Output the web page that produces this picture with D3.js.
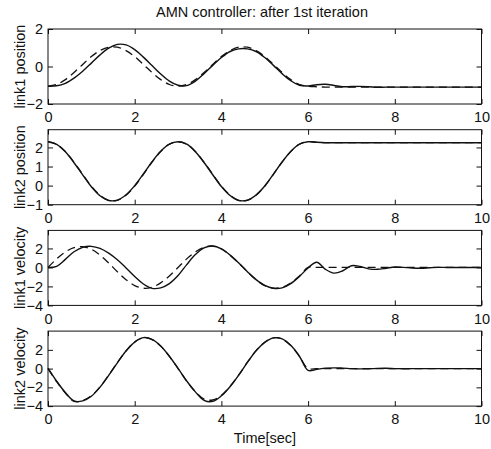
<!DOCTYPE html>
<html>
<head>
<meta charset="utf-8">
<script src="https://cdn.jsdelivr.net/npm/d3@7"></script>
<style>
  html, body { margin: 0; padding: 0; background: #fff; }
  svg { display: block; }
  text { font-family: "Liberation Sans", Arial, Helvetica, sans-serif; fill: #111; }
</style>
</head>
<body>
<svg id="chart" width="491" height="449"></svg>
<script>
// ---- data ----
const time = [0,0.2,0.4,0.6,0.8,1,1.2,1.4,1.6,1.8,2,2.2,2.4,2.6,2.8,3,3.2,3.4,3.6,3.8,4,4.2,4.4,4.6,4.8,5,5.2,5.4,5.6,5.8,6,
  6.2,6.4,6.6,6.8,7,7.2,7.4,7.6,7.8,8,8.2,8.4,8.6,8.8,9,9.2,9.4,9.6,9.8,10];

const link1PosDesired = [-1.05,-0.96,-0.70,-0.32,0.11,0.53,0.85,1.03,1.03,0.85,0.53,0.11,-0.32,-0.70,-0.96,-1.05,
  -0.96,-0.70,-0.32,0.11,0.53,0.85,1.03,1.03,0.85,0.53,0.11,-0.32,-0.70,-0.96,-1.05,
  -1.08,-1.1,-1.1,-1.1,-1.1,-1.1,-1.1,-1.1,-1.1,-1.1,-1.1,-1.1,-1.1,-1.1,-1.1,-1.1,-1.1,-1.1,-1.1,-1.1];
const link1PosActual = [-1.05,-1.03,-0.90,-0.62,-0.25,0.18,0.62,0.98,1.18,1.15,0.90,0.50,0.05,-0.40,-0.78,-1.00,
  -1.02,-0.78,-0.38,0.06,0.48,0.80,0.94,0.94,0.80,0.48,0.06,-0.38,-0.76,-1.00,-1.04,
  -0.97,-0.95,-1.01,-1.08,-1.07,-1.06,-1.08,-1.11,-1.10,-1.1,-1.1,-1.1,-1.1,-1.1,-1.1,-1.1,-1.1,-1.1,-1.1,-1.1];

const link2PosDesired = [2.30,2.17,1.79,1.23,0.59,-0.03,-0.50,-0.77,-0.77,-0.50,-0.03,0.59,1.23,1.79,2.17,2.30,
  2.17,1.79,1.23,0.59,-0.03,-0.50,-0.77,-0.77,-0.50,-0.03,0.59,1.23,1.79,2.17,2.30,
  2.27,2.25,2.25,2.25,2.25,2.25,2.25,2.25,2.25,2.25,2.25,2.25,2.25,2.25,2.25,2.25,2.25,2.25,2.25,2.25];
const link2PosActual = [2.30,2.16,1.77,1.20,0.56,-0.06,-0.53,-0.78,-0.76,-0.48,0.00,0.61,1.25,1.80,2.17,2.30,
  2.17,1.78,1.21,0.57,-0.05,-0.52,-0.78,-0.76,-0.49,-0.02,0.60,1.24,1.79,2.17,2.30,
  2.27,2.25,2.25,2.25,2.25,2.25,2.25,2.25,2.25,2.25,2.25,2.25,2.25,2.25,2.25,2.25,2.25,2.25,2.25,2.25];

const link1VelDesired = [0,0.90,1.63,2.09,2.19,1.91,1.29,0.46,-0.46,-1.29,-1.91,-2.19,-2.09,-1.63,-0.90,0,
  0.90,1.63,2.12,2.25,1.95,1.29,0.46,-0.46,-1.29,-1.91,-2.19,-2.09,-1.63,-0.90,0,
  0,0,0,0,0,0,0,0,0,0,0,0,0,0,0,0,0,0,0,0];
const link1VelActual = [0,0.12,0.85,1.65,2.12,2.22,2.00,1.50,0.80,-0.05,-0.95,-1.75,-2.20,-2.15,-1.70,-0.85,
  0.30,1.35,2.05,2.25,1.95,1.30,0.47,-0.45,-1.28,-1.90,-2.20,-2.15,-1.70,-0.95,-0.05,
  0.55,-0.20,-0.60,-0.35,0.18,0.10,-0.15,-0.20,-0.08,0.05,0.00,-0.06,-0.08,-0.04,0,0,0,0,0,0];

const link2VelDesired = [0,-1.40,-2.60,-3.50,-3.40,-2.90,-1.95,-0.70,0.65,1.90,2.85,3.30,3.10,2.40,1.30,0.00,
  -1.35,-2.45,-3.25,-3.35,-2.85,-1.90,-0.68,0.68,1.91,2.81,3.28,3.15,2.45,1.30,0.00,
  0,0,0,0,0,0,0,0,0,0,0,0,0,0,0,0,0,0,0,0];
const link2VelActual = [0.05,-1.35,-2.55,-3.45,-3.45,-2.95,-1.98,-0.72,0.62,1.88,2.83,3.30,3.12,2.42,1.32,0.02,
  -1.32,-2.48,-3.38,-3.50,-2.90,-1.92,-0.70,0.66,1.90,2.80,3.28,3.18,2.48,1.32,-0.20,
  -0.08,0.05,0.08,0.05,0.00,-0.03,-0.02,0.02,0.03,0.00,-0.02,0,0,0,0,0,0,0,0,0];

const xTicks = [0,2,4,6,8,10];
const yLabels = ["link1 position","link2 position","link1 velocity","link2 velocity"];
const yDomains = [[-2,2],[-1,2.93],[-4,3.9],[-4,4]];
const yTicks = [[-2,0,2],[-1,0,1,2],[-4,-2,0,2],[-4,-2,0,2]];
const actualSeries = [link1PosActual, link2PosActual, link1VelActual, link2VelActual];
const desiredSeries = [link1PosDesired, link2PosDesired, link1VelDesired, link2VelDesired];
const titleText = "AMN controller: after 1st iteration";
const xLabelText = "Time[sec]";

// ---- layout ----
const svg = d3.select("#chart");
const left = 48, right = 481.5;
const panelTop0 = 29, panelStep = 100.7, panelH = 75;
const ink = "#111";

const x = d3.scaleLinear().domain([0,10]).range([left, right]);

svg.append("text").attr("x", 262).attr("y", 17).attr("text-anchor","middle")
  .attr("font-size", 14.5).text(titleText);

yLabels.forEach((lab, i) => {
  const top = panelTop0 + i*panelStep, bottom = top + panelH;
  const y = d3.scaleLinear().domain(yDomains[i]).range([bottom, top]);
  const g = svg.append("g");

  const gl = g.append("g").attr("transform", `translate(${left},0)`)
    .call(d3.axisLeft(y).tickValues(yTicks[i]).tickSize(-5).tickPadding(5).tickFormat(d3.format("d")));
  const gb = g.append("g").attr("transform", `translate(0,${bottom})`)
    .call(d3.axisBottom(x).tickValues(xTicks).tickSize(-5).tickPadding(8).tickFormat(d3.format("d")));
  const gt = g.append("g").attr("transform", `translate(0,${top})`)
    .call(d3.axisTop(x).tickValues(xTicks).tickSize(-5).tickFormat(""));
  const gr = g.append("g").attr("transform", `translate(${right},0)`)
    .call(d3.axisRight(y).tickValues(yTicks[i]).tickSize(-5).tickFormat(""));
  [gl, gb, gt, gr].forEach(a => {
    a.select(".domain").remove();
    a.selectAll("line").attr("stroke", ink).attr("stroke-width", 1);
    a.selectAll("text").attr("font-size", 14.5).attr("fill", ink)
      .attr("font-family", "'Liberation Sans', Arial, Helvetica, sans-serif");
  });

  const line = d3.line().x((d, k) => x(time[k])).y(d => y(d)).curve(d3.curveCatmullRom.alpha(0.5));
  g.append("path").datum(desiredSeries[i]).attr("d", line)
    .attr("fill","none").attr("stroke", ink).attr("stroke-width", 1.3).attr("stroke-dasharray","8,5");
  g.append("path").datum(actualSeries[i]).attr("d", line)
    .attr("fill","none").attr("stroke", ink).attr("stroke-width", 1.4);

  g.append("rect").attr("x", left).attr("y", top).attr("width", right-left).attr("height", panelH)
    .attr("fill","none").attr("stroke", ink).attr("stroke-width", 1);

  svg.append("text").attr("transform", `translate(20,${(top+bottom)/2}) rotate(-90)`)
    .attr("text-anchor","middle").attr("dy","0.35em").attr("font-size", 14.5).text(lab);
});

svg.append("text").attr("x", 265).attr("y", 443).attr("text-anchor","middle")
  .attr("font-size", 14.5).text(xLabelText);
</script>
</body>
</html>
